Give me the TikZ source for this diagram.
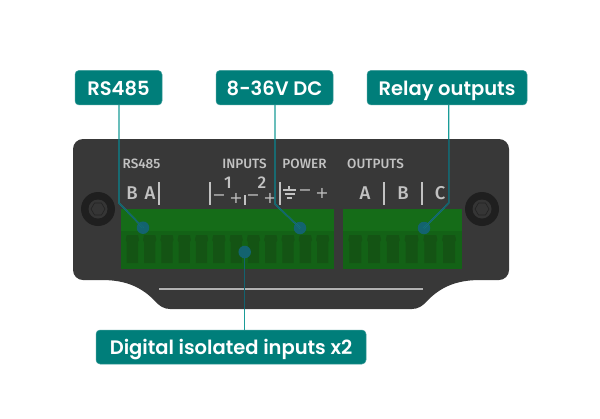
\documentclass[tikz,border=0pt]{standalone}
\usepackage{fontspec}
\setmainfont{Poppins}
\newfontfamily\semi{Poppins SemiBold}
\newfontfamily\plat{Fira Sans Medium}
\newfontfamily\symb{DejaVu Sans}
\definecolor{tealbox}{HTML}{007E7A}
\definecolor{tealline}{HTML}{1A9C98}
\definecolor{tealdark}{HTML}{13636F}
\definecolor{plate}{HTML}{383838}
\definecolor{greentop}{HTML}{156C18}
\definecolor{greenlow}{HTML}{136216}
\definecolor{termcol}{HTML}{145414}
\definecolor{ink}{HTML}{C2C2C2}
\tikzset{
  x=1pt,y=-1pt,
  callout/.style={rounded corners=4pt,fill=tealbox,draw=tealbox!75!white,line width=.5pt,text=white,
    font=\semi\fontsize{19.5}{20}\selectfont,inner sep=0pt,anchor=center,text height=15.5pt,text depth=0pt},
  dotmark/.style={circle,fill=tealdark,minimum size=12.5pt,inner sep=0pt},
  wire/.style={line width=1.4pt,line join=miter},
  plab/.style={text=ink,font=\plat\fontsize{13.5}{13.5}\selectfont,inner sep=0pt},
  pin/.style={text=ink,font=\plat\fontsize{18.5}{18}\selectfont,inner sep=0pt},
  pnum/.style={text=ink,font=\plat\fontsize{17}{17}\selectfont,inner sep=0pt},
  pins/.style={text=ink,font=\symb\fontsize{16}{16}\selectfont,inner sep=0pt},
  vbar/.style={draw=ink,line width=1.4pt},
}
\newcommand{\platepath}{(83,139) -- (499,139) to[out=0,in=90] (509,149) -- (509,270) to[out=-90,in=0] (499,280)
  -- (480,280) .. controls (455,280) and (440,288) .. (428,300) .. controls (423,306) and (418,309) .. (412,309)
  -- (170,309) .. controls (164,309) and (159,306) .. (154,300) .. controls (142,288) and (127,280) .. (102,280)
  -- (83,280) to[out=180,in=-90] (73,270) -- (73,149) to[out=90,in=180] (83,139) -- cycle}
\newcommand{\term}[2]{\fill[termcol] (#1+1,235) -- (#1+#2-1,235) -- (#1+#2,240) -- (#1+#2-1,242) -- (#1+#2-1,263) -- (#1+1,263) -- (#1+1,242) -- (#1,240) -- cycle;}
\begin{document}
\begin{tikzpicture}
\useasboundingbox (0,0) rectangle (600,418);
\fill[white] (0,0) rectangle (600,418);
\fill[plate] \platepath;
% screws
\foreach \c in {98,482}{
  \fill[black!45!plate] (\c,209) circle (17);
  \fill[plate!95!black] (\c,209) circle (9.5);
  \draw[black!40!plate,line width=.6pt] (\c-7,209) -- (\c-3.5,203) -- (\c+3.5,203) -- (\c+7,209) -- (\c+3.5,215) -- (\c-3.5,215) -- cycle;
}
% slot
\draw[black!80,line width=.8pt] (159,287.4) -- (423,287.4);
\draw[black!30,line width=2.2pt] (159,289) -- (423,289);
% terminal blocks
\fill[greenlow] (121,209) rectangle (334,269);
\fill[greentop] (121,209) rectangle (334,231);
\fill[greenlow] (343,209) rectangle (462,269);
\fill[greentop] (343,209) rectangle (462,231);
\foreach \i in {0,...,11}{\term{125.7+17.3*\i}{13.3}}
\foreach \i in {0,...,5}{\term{348.3+18.75*\i}{14}}
% plate labels
\node[plab] (t1) at (141.5,163.5) {RS485};
\node[plab] (t2) at (244.5,163.5) {INPUTS};
\node[plab] (t3) at (304.5,163.5) {POWER};
\node[plab] (t4) at (375.5,163.5) {OUTPUTS};
\node[pin] (b1) at (132,193) {B};
\node[pin] (a1) at (150,193) {A};
\node[pnum] (n1) at (228,183) {1};
\node[pnum] (n2) at (262,183) {2};
\node[pins] (m1) at (219,198) {−};
\node[pins] (p1) at (236,198) {+};
\node[pins] (m2) at (253,198) {−};
\node[pins] (p2) at (270,198) {+};
\node[pins] (m3) at (305,193) {−};
\node[pins] (p3) at (322,193) {+};
\node[pin] (a2) at (365,193) {A};
\node[pin] (b2) at (403,193) {B};
\node[pin] (c2) at (440,193) {C};
\foreach \x/\a/\b in {159/182/205,210/182/205,245/195/205,280/182/205,384/182/205,422/182/205}
  \draw[vbar] (\x,\a) -- (\x,\b);
% ground
\draw[ink,line width=1.1pt] (289,186) -- (289,190) (283,190) -- (296,190) (284.5,194) -- (294.5,194) (286.5,198) -- (292,198);
% callouts
\node[callout,minimum width=87pt,minimum height=34.5pt] (lrs) at (118.5,87.7) {RS485};
\node[callout,minimum width=117pt,minimum height=34.5pt] (lpw) at (274.5,87.7) {8-36V DC};
\node[callout,minimum width=160pt,minimum height=34.5pt] (lre) at (447,87.7) {Relay outputs};
\node[callout,minimum width=270pt,minimum height=34pt] (ldi) at (231,347) {Digital isolated inputs x2};
% dots
\node[dotmark] (d1) at (143,227.7) {};
\node[dotmark] (d2) at (244.7,252) {};
\node[dotmark] (d3) at (300,228) {};
\node[dotmark] (d4) at (424,228) {};
\coordinate (k1) at (119,203);
\coordinate (k3) at (275,204);
\coordinate (k4) at (448.7,203);
% connectors
\draw[wire,tealline] (119,105) -- (k1) -- (d1.center);
\draw[wire,tealline] (275,105) -- (k3) -- (d3.center);
\draw[wire,tealline] (448.7,105) -- (k4) -- (d4.center);
\draw[wire,tealline] (d2.center) -- (244.7,330);
\begin{scope}
\clip \platepath;
\draw[wire,tealdark] (119,105) -- (k1) -- (d1.center);
\draw[wire,tealdark] (275,105) -- (k3) -- (d3.center);
\draw[wire,tealdark] (448.7,105) -- (k4) -- (d4.center);
\draw[wire,tealdark] (d2.center) -- (244.7,330);
\end{scope}
\end{tikzpicture}
\end{document}
